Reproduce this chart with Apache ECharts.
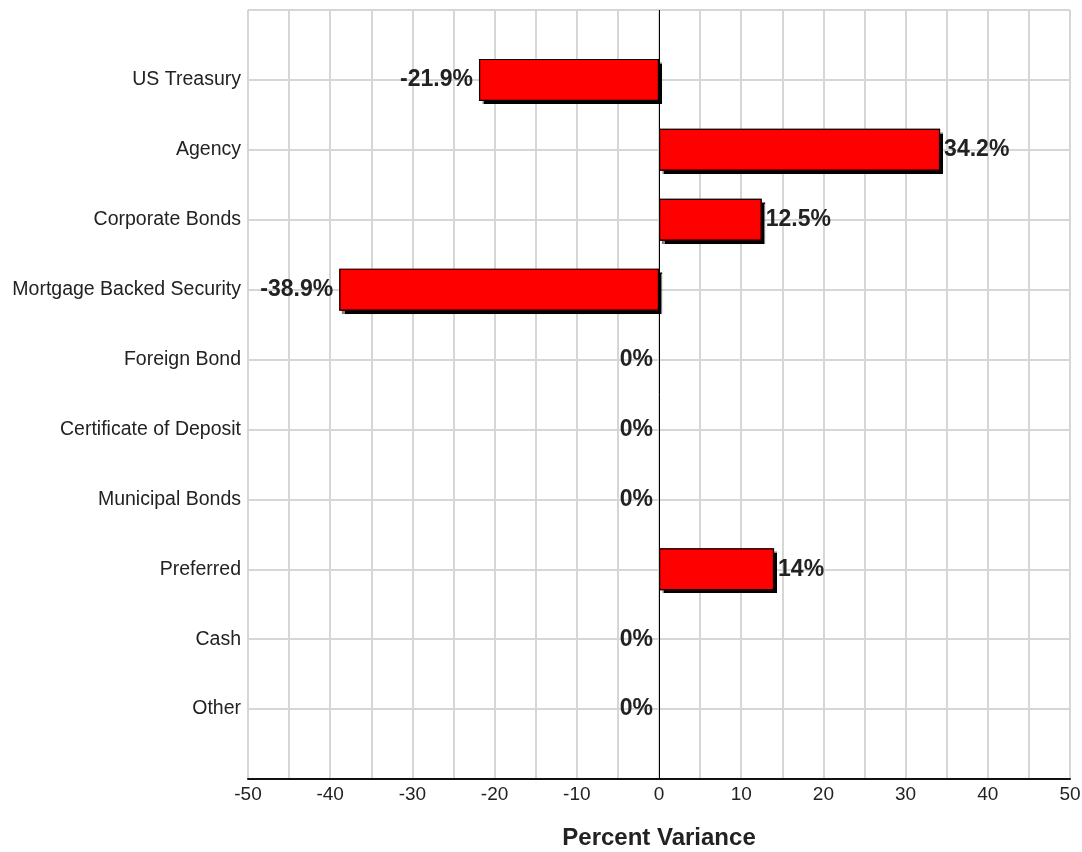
<!DOCTYPE html>
<html>
<head>
<meta charset="utf-8">
<title>Percent Variance by Security Type</title>
<script src="https://cdn.jsdelivr.net/npm/echarts@6/dist/echarts.min.js"></script>
<style>
  html, body { margin: 0; padding: 0; background: #fff; }
  #chart { width: 1082px; height: 852px; }
</style>
</head>
<body>
<div id="chart"></div>
<script>
// Security types, listed top to bottom
const categories = [
  'US Treasury', 'Agency', 'Corporate Bonds', 'Mortgage Backed Security',
  'Foreign Bond', 'Certificate of Deposit', 'Municipal Bonds', 'Preferred',
  'Cash', 'Other'
];
// Percent variance per security type
const variance = [-21.9, 34.2, 12.5, -38.9, 0, 0, 0, 14, 0, 0];
// Value label text for each bar
const valueLabels = ['-21.9%', '34.2%', '12.5%', '-38.9%', '0%', '0%', '0%', '14%', '0%', '0%'];

// Empty slots above and below so the rows sit on grid lines with a half-row margin
const axisCategories = [''].concat(categories, ['']);

const FONT = '"Liberation Sans", Arial, Helvetica, sans-serif';

// Red fill with a hard black drop shadow, plus the value label
const fillData = [null].concat(variance.map(function (v, i) {
  const item = {
    value: v,
    label: {
      formatter: valueLabels[i],
      position: v > 0 ? 'right' : 'left',
      distance: v > 0 ? 4 : 6
    }
  };
  if (v === 0) {
    item.itemStyle = { shadowColor: 'rgba(0,0,0,0)' };
  }
  return item;
}), [null]);

// Black outline drawn over the fill (no outline for empty bars)
const outlineData = [null].concat(variance.map(function (v) {
  return v === 0 ? { value: v, itemStyle: { borderWidth: 0 } } : v;
}), [null]);

const chart = echarts.init(document.getElementById('chart'), null, { renderer: 'canvas' });
chart.setOption({
  animation: false,
  backgroundColor: '#ffffff',
  grid: { left: 248, right: 12, top: 10, bottom: 73, containLabel: false, outerBoundsMode: 'none' },
  xAxis: {
    type: 'value',
    min: -50,
    max: 50,
    interval: 5,
    name: 'Percent Variance',
    nameLocation: 'middle',
    nameGap: 47,
    nameTextStyle: { fontFamily: FONT, fontSize: 24, fontWeight: 'bold', color: '#222' },
    axisLine: { show: true, onZero: false, lineStyle: { color: '#111', width: 2 } },
    axisTick: { show: false },
    axisLabel: {
      margin: 6,
      fontFamily: FONT,
      fontSize: 19,
      color: '#222',
      showMinLabel: true,
      showMaxLabel: true,
      formatter: function (v) { return v % 10 === 0 ? String(v) : ''; }
    },
    splitLine: { show: true, lineStyle: { color: '#d6d6d6', width: 2 } }
  },
  yAxis: {
    type: 'category',
    inverse: true,
    boundaryGap: false,
    data: axisCategories,
    axisLine: { show: false },
    axisTick: { show: false },
    axisLabel: {
      margin: 7,
      fontFamily: FONT,
      fontSize: 19.5,
      color: '#222',
      interval: 0
    },
    splitLine: { show: true, interval: 0, lineStyle: { color: '#d6d6d6', width: 2 } }
  },
  series: [{
    type: 'bar',
    name: 'fill',
    data: fillData,
    barWidth: 42,
    barGap: '-100%',
    itemStyle: {
      color: '#ff0000',
      borderWidth: 0,
      shadowColor: 'rgba(0,0,0,1)',
      shadowBlur: 1,
      shadowOffsetX: 3,
      shadowOffsetY: 3
    },
    label: {
      show: true,
      fontFamily: FONT,
      fontSize: 23,
      fontWeight: 'bold',
      color: '#222'
    },
    markLine: {
      silent: true,
      symbol: ['none', 'none'],
      label: { show: false },
      lineStyle: { color: '#000', width: 1, type: 'solid' },
      data: [{ xAxis: 0 }]
    }
  }, {
    type: 'bar',
    name: 'outline',
    data: outlineData,
    barWidth: 42,
    barGap: '-100%',
    silent: true,
    itemStyle: {
      color: 'rgba(0,0,0,0)',
      borderColor: '#000',
      borderWidth: 1.2
    }
  }]
});
</script>
</body>
</html>
